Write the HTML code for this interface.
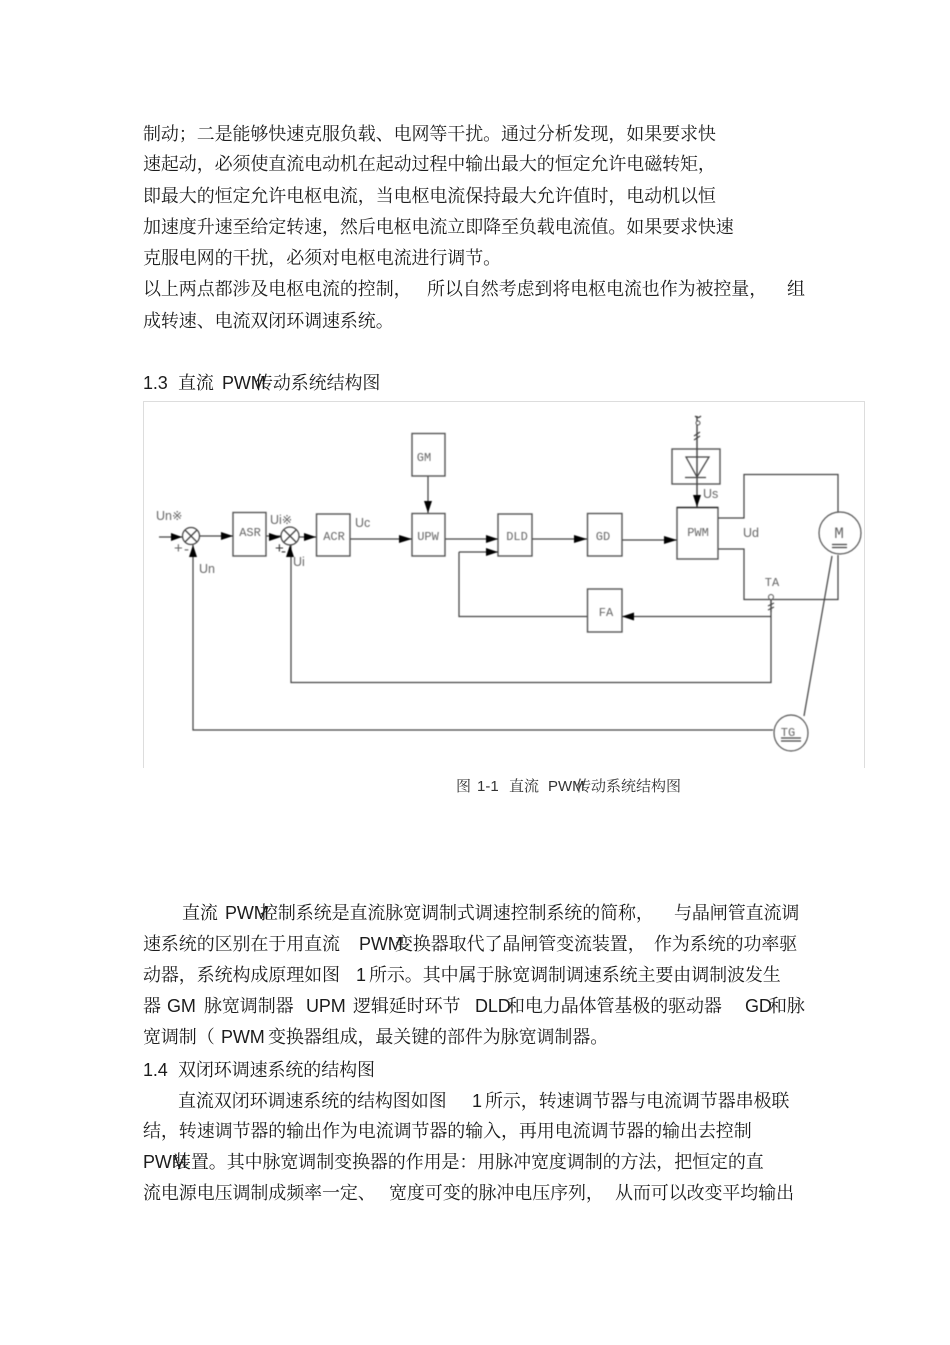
<!DOCTYPE html>
<html lang="zh"><head><meta charset="utf-8"><title>直流 PWM 传动系统结构图</title>
<style>
html,body{margin:0;padding:0;background:#fff}
svg{display:block}
.t text{font-family:"Liberation Sans","Noto Serif CJK SC",serif;font-size:18px;fill:#1c1c1c;letter-spacing:-.1px}
.cap text{font-size:15px;fill:#333;letter-spacing:0}
.d{filter:blur(.5px)}
.d .l{fill:none;stroke:#444;stroke-width:1.25}
.d .b{fill:#fff;stroke:#555;stroke-width:1.4}
.d .a{fill:#000;stroke:none}
.d text{font-family:"Liberation Mono",monospace;font-size:12px;fill:#666;text-anchor:middle}
.d text.s{font-family:"Liberation Sans",sans-serif;font-size:12.5px;text-anchor:start}
</style></head><body>
<svg xmlns="http://www.w3.org/2000/svg" width="950" height="1345" viewBox="0 0 950 1345">
<rect width="950" height="1345" fill="#fff"/>
<g class="t">
<text x="143" y="140">制动；二是能够快速克服负载、电网等干扰。通过分析发现，如果要求快</text>
<text x="143" y="170">速起动，必须使直流电动机在起动过程中输出最大的恒定允许电磁转矩，</text>
<text x="143" y="202">即最大的恒定允许电枢电流，当电枢电流保持最大允许值时，电动机以恒</text>
<text x="143" y="233">加速度升速至给定转速，然后电枢电流立即降至负载电流值。如果要求快速</text>
<text x="143" y="264">克服电网的干扰，必须对电枢电流进行调节。</text>
<text x="143" y="295">以上两点都涉及电枢电流的控制，</text><text x="427" y="295">所以自然考虑到将电枢电流也作为被控量，</text><text x="787" y="295">组</text>
<text x="143" y="327">成转速、电流双闭环调速系统。</text>
<text x="143" y="389">1.3</text><text x="178" y="389">直流</text><text x="222" y="389">PWM</text><text x="255" y="389">传动系统结构图</text>

<text x="182" y="919">直流</text><text x="225" y="919">PWM</text><text x="260" y="919">控制系统是直流脉宽调制式调速控制系统的简称，</text><text x="674" y="919">与晶闸管直流调</text>
<text x="143" y="950">速系统的区别在于用直流</text><text x="359" y="950">PWM</text><text x="395" y="950">变换器取代了晶闸管变流装置，</text><text x="654" y="950">作为系统的功率驱</text>
<text x="143" y="981">动器，系统构成原理如图</text><text x="356" y="981">1</text><text x="369" y="981">所示。其中属于脉宽调制调速系统主要由调制波发生</text>
<text x="143" y="1012">器</text><text x="167" y="1012">GM</text><text x="204" y="1012">脉宽调制器</text><text x="306" y="1012">UPM</text><text x="353" y="1012">逻辑延时环节</text><text x="475" y="1012">DLD</text><text x="507" y="1012">和电力晶体管基极的驱动器</text><text x="745" y="1012">GD</text><text x="769" y="1012">和脉</text>
<text x="143" y="1043">宽调制（</text><text x="221" y="1043">PWM</text><text x="268" y="1043">变换器组成，最关键的部件为脉宽调制器。</text>
<text x="143" y="1076">1.4</text><text x="178" y="1076">双闭环调速系统的结构图</text>
<text x="178" y="1107">直流双闭环调速系统的结构图如图</text><text x="472" y="1107">1</text><text x="485" y="1107">所示，转速调节器与电流调节器串极联</text>
<text x="143" y="1137">结，转速调节器的输出作为电流调节器的输入，再用电流调节器的输出去控制</text>
<text x="143" y="1168">PWM</text><text x="173" y="1168">装置。其中脉宽调制变换器的作用是：用脉冲宽度调制的方法，把恒定的直</text>
<text x="143" y="1199">流电源电压调制成频率一定、</text><text x="389" y="1199">宽度可变的脉冲电压序列，</text><text x="615" y="1199">从而可以改变平均输出</text>
</g>
<g class="t cap">
<text x="456" y="791" style="font-size:15px">图</text><text x="477" y="791" style="font-size:15px">1-1</text><text x="509" y="791" style="font-size:15px">直流</text><text x="548" y="791" style="font-size:15px">PWM</text><text x="576" y="791" style="font-size:15px">传动系统结构图</text>
</g>

<path d="M143.500 768V401.500H864.500V768" fill="none" stroke="#ddd" stroke-width="1"/>
<g class="d">
<path class="l" d="M159 537H182M200 536H233M266 536H281M299 537H316M350 539H412M428 476V513M445 539H498M459 552H498M459 552V616.500H587M532 539H587M622 540H677M622 616.500H771M771 600V682.500H291V545M193 545V730H773M697 416V507"/>
<path class="l" d="M718 518H744V474.500H838V512M718 549H744V599.500H838V555M832 556L804 716"/>
<rect class="b" x="412" y="433.500" width="33" height="42.500"/>
<rect class="b" x="233" y="512.500" width="33" height="43.500"/>
<rect class="b" x="316.500" y="514" width="33.500" height="42"/>
<rect class="b" x="412" y="513.500" width="33" height="42.500"/>
<rect class="b" x="498" y="514" width="34" height="42"/>
<rect class="b" x="587.500" y="513.500" width="34.500" height="42.500"/>
<rect class="b" x="587.500" y="589" width="34.500" height="43"/>
<rect class="b" x="677" y="507.500" width="41" height="51.500"/>
<path d="M677 507.500H718" stroke="#222" stroke-width="1.2"/>
<rect x="672" y="449" width="48" height="35" fill="none" stroke="#555" stroke-width="1.4"/>
<path class="l" d="M686 457H709L697 477ZM685 477.500H706"/>
<path class="l" d="M697 416V507"/>
<g class="l"><circle cx="191" cy="536" r="8.500" fill="#fff"/><path d="M185 530L197 542M197 530L185 542"/>
<circle cx="290" cy="536" r="9" fill="#fff"/><path d="M284 530L296 542M296 530L284 542"/></g>
<g class="a">
<path d="M182 537L171 533V541Z"/><path d="M233 536L221 532V540Z"/><path d="M281 537L269 533V541Z"/><path d="M316 537L304 533V541Z"/>
<path d="M412 539L399 535V543Z"/><path d="M428 513L424 501H432Z"/><path d="M498 539L486 535V543Z"/><path d="M498 552L486 548V556Z"/>
<path d="M587 539L574 535V543Z"/><path d="M677 540L664 536V544Z"/><path d="M622 616.500L634 612.500V620.500Z"/>
<path d="M697 507L693 495H701Z"/><path d="M193 545L189 557H197Z"/><path d="M290 545L286 557H294Z"/>
</g>
<circle cx="840" cy="533" r="21" fill="#fff" stroke="#555" stroke-width="1.2"/>
<path class="l" d="M832 544.500H847M832 547.500H847"/>
<ellipse cx="791" cy="733" rx="17" ry="18" fill="#fff" stroke="#555" stroke-width="1.2"/>
<path class="l" d="M781 738H801M781 741H801"/>
<circle cx="771" cy="597" r="2.500" fill="#fff" stroke="#555"/>
<path class="l" d="M771 600V612M768 606L774 603M768 610L774 607"/>
<circle cx="698" cy="423" r="2" fill="#fff" stroke="#555"/>
<path class="l" d="M695 416Q698 419 701 416M694 436L700 432M694 440L700 436"/>
<text x="424" y="461">GM</text><text x="250" y="536">ASR</text><text x="334" y="540">ACR</text><text x="428" y="540">UPW</text><text x="517" y="540">DLD</text><text x="603" y="540">GD</text><text x="606" y="616">FA</text><text x="698" y="536">PWM</text>
<text x="839" y="538" style="font-size:16px">M</text><text x="788" y="736">TG</text><text x="772" y="586">TA</text>
<text class="s" x="156" y="520">Un※</text><text class="s" x="270" y="524">Ui※</text><text class="s" x="355" y="527">Uc</text><text class="s" x="199" y="573">Un</text><text class="s" x="293" y="566">Ui</text><text class="s" x="743" y="537">Ud</text><text class="s" x="703" y="498">Us</text>
<text class="s" x="174" y="553" style="font-size:15px">+</text><text class="s" x="184" y="554" style="font-size:15px">-</text><text class="s" x="275" y="553" style="font-size:15px;fill:#333">+</text><text class="s" x="281" y="556" style="font-size:15px;fill:#333">-</text>
</g>
</svg>
</body></html>
